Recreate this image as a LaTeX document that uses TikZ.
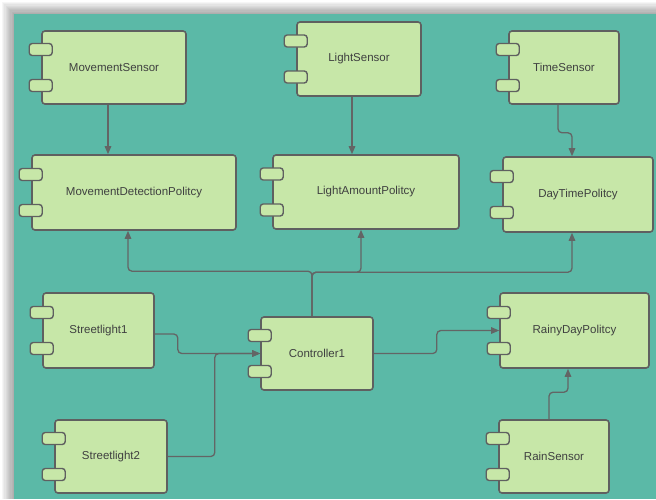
\documentclass[tikz,border=0pt]{standalone}
\usepackage{fontspec}
\setmainfont{Liberation Sans}
\usetikzlibrary{arrows.meta,calc}
\definecolor{teal bg}{HTML}{5BB9A7}
\definecolor{comp fill}{HTML}{C7E7A8}
\definecolor{comp edge}{HTML}{5F6060}
\definecolor{wire}{HTML}{636565}
\definecolor{label}{HTML}{3F4040}
\tikzset{
  comp/.style={draw=comp edge, fill=comp fill, line width=1.6pt, rounded corners=3pt,
    inner sep=0pt, text=label, font=\fontsize{11.5}{14}\selectfont},
  porttab/.style={draw=comp edge, fill=comp fill, line width=1.4pt, rounded corners=3pt},
  wire/.style={draw=wire, line width=1.3pt, rounded corners=4pt},
  flow/.style={wire, -{Triangle[length=8pt,width=6.5pt]}},
}
\begin{document}
\begin{tikzpicture}[x=1pt,y=-1pt]
  \useasboundingbox (0,0) rectangle (656,499);
  \fill[white] (0,0) rectangle (656,499);
  % soft drop shadow along the top and left edges of the canvas
  \foreach \k in {1,...,10} {
    \fill[black, opacity=0.035] (14-\k*1.2,14-\k*1.2) rectangle (656,499);
  }
  \fill[teal bg] (14,14) rectangle (656,499);

  % components, each with its two port tabs on the left side
  \foreach \n/\cx/\cy/\w/\h/\t in {
      ms/114/67.5/144/73/MovementSensor,
      ls/359/59/124/74/LightSensor,
      ts/564/67.5/110/73/TimeSensor,
      mdp/134/192.5/204/75/MovementDetectionPolitcy,
      lap/366/192/186/74/LightAmountPolitcy,
      dtp/578/194.5/150/75/DayTimePolitcy,
      sla/98.5/330.5/111/75/Streetlight1,
      ctrl/317/353.5/112/73/Controller1,
      rdp/574.5/330.5/149/75/RainyDayPolitcy,
      slb/111/456.5/112/73/Streetlight2,
      rs/554/456.5/110/73/RainSensor} {
    \node[comp, minimum width=\w pt, minimum height=\h pt] (\n) at (\cx,\cy) {\t};
    \draw[porttab] ($(\n.west)+(-12,-24)$) rectangle ++(23,12);
    \draw[porttab] ($(\n.west)+(-12,12)$) rectangle ++(23,12);
  }

  % sensors feeding their policies
  \draw[flow] ([xshift=-6pt]ms.south) -- ([xshift=-6pt]ms.south |- mdp.north);
  \draw[flow] ([xshift=-7pt]ls.south) -- ([xshift=-7pt]ls.south |- lap.north);
  \draw[flow] ([xshift=-6pt]ts.south) -- ++(0,28) -| ([xshift=-6pt]dtp.north);
  \draw[flow] ([xshift=-5pt]rs.north) -- ++(0,-27) -| ([xshift=-6.5pt]rdp.south);

  % controller to the policies
  \draw[flow] ([xshift=-5pt]ctrl.north) -- ++(0,-45) -| ([xshift=-6pt]mdp.south);
  \draw[flow] ([xshift=-5pt]ctrl.north) -- ++(0,-44) -| ([xshift=-5pt]lap.south);
  \draw[flow] ([xshift=-5pt]ctrl.north) -- ++(0,-44) -| ([xshift=-6pt]dtp.south);
  \draw[flow] (ctrl.east) -- ++(63,0) |- (rdp.west);

  % streetlights into the controller
  \draw[flow] ([yshift=-3.5pt]sla.east) -- ++(23,0) |- (ctrl.west);
  \draw[flow] (slb.east) -- ++(47,0) |- (ctrl.west);
\end{tikzpicture}
\end{document}
